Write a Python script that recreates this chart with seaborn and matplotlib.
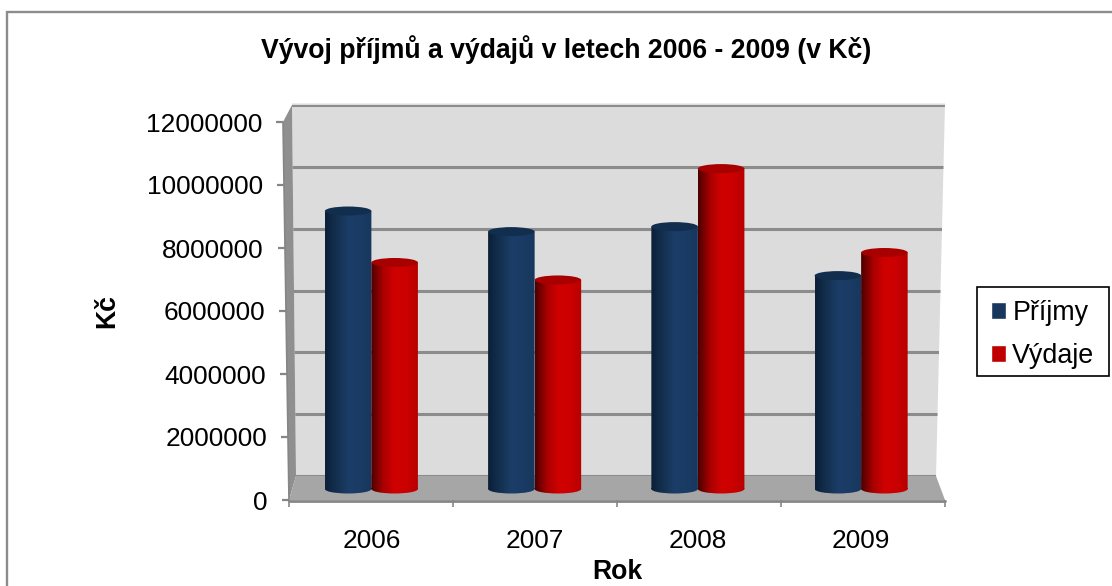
import numpy as np
import pandas as pd
import matplotlib
matplotlib.use("Agg")
import matplotlib.pyplot as plt
import seaborn as sns
from matplotlib.colors import LinearSegmentedColormap
from matplotlib.patches import Ellipse, Polygon, Rectangle
from matplotlib.path import Path
from matplotlib.transforms import Affine2D, ScaledTranslation

# data
years = ["2006", "2007", "2008", "2009"]
prijmy = [8910000, 8250000, 8410000, 6840000]
vydaje = [7260000, 6700000, 10270000, 7580000]
y_ticks = [0, 2000000, 4000000, 6000000, 8000000, 10000000, 12000000]

W, H = 1112, 586

sns.set_style("white")
plt.rcParams["font.family"] = ["Liberation Sans", "DejaVu Sans"]
plt.rcParams["text.color"] = "black"
plt.rcParams["xtick.labelcolor"] = "black"
plt.rcParams["ytick.labelcolor"] = "black"

df = pd.DataFrame({
    "Rok": years * 2,
    "Kc": prijmy + vydaje,
    "serie": ["Příjmy"] * 4 + ["Výdaje"] * 4,
})

fig = plt.figure(figsize=(W / 100, H / 100), dpi=100, facecolor="white")


def px_axes(x0, y0, x1, y1):
    # axes from pixel box, y measured from the top of the image
    a = fig.add_axes([x0 / W, 1 - y1 / H, (x1 - x0) / W, (y1 - y0) / H])
    a.patch.set_alpha(0)
    return a


# pixel canvas for the fake 3D box
bg = px_axes(0, 0, W, H)
bg.set_xlim(0, W)
bg.set_ylim(H, 0)
bg.set_axis_off()
# frame only shows on the top and left, the rest is cut off
bg.add_patch(Rectangle((7, 12), 1300, 800, fc="white", ec="#8c8c8c", lw=1.7))
wall = Polygon([(292, 103.5), (945, 103.5), (936, 477), (296, 477)], fc="#dcdcdc", ec="none")
bg.add_patch(wall)
bg.add_patch(Polygon([(283, 122), (292, 105), (296, 476), (289, 500)], fc="#8f8f8f", ec="none"))
bg.add_patch(Polygon([(296, 476), (936, 476), (945, 500), (289, 500)], fc="#a6a6a6", ec="none"))
bg.plot([289, 945], [501, 501], color="#868686", lw=2)
bg.plot([283, 289], [122, 501], color="#868686", lw=1.2)
# legend box
bg.add_patch(Rectangle((977, 287), 132, 89, fc="white", ec="black", lw=1.2))

# back wall grid
back = px_axes(280, 105, 960, 476)
back.set_ylim(0, 12000000)
back.set_yticks(y_ticks)
back.set_xticks([])
back.tick_params(left=False, labelleft=False)
back.grid(axis="y", color="#8c8c8c", lw=2.2)
for s in back.spines.values():
    s.set_visible(False)
back.set_axisbelow(True)
for line in back.get_ygridlines():
    line.set_clip_path(wall)

# front axis with the ticks and labels
front = px_axes(289, 122, 945, 500)
front.set_ylim(0, 12000000)
front.set_xlim(-0.5, 3.5)
front.set_yticks(y_ticks)
front.set_yticklabels([str(v) for v in y_ticks])
for s in front.spines.values():
    s.set_visible(False)
front.tick_params(axis="y", length=5.2, width=1.6, color="#868686", labelsize=18.9, pad=10, left=True)
front.tick_params(axis="x", length=5, width=1.2, color="#868686", bottom=True)
front.set_xticks([-0.5, 0.5, 1.5, 2.5, 3.5])
front.set_xticklabels(["", "", "", "", ""])
for v, t in zip(y_ticks, front.yaxis.get_major_ticks()):
    # axis leans to the left going up
    shift = ScaledTranslation(-6 * v / 12000000 / 100, 0, Affine2D().scale(100))
    t.tick1line.set_transform(t.tick1line.get_transform() + shift)
    t.label1.set_transform(t.label1.get_transform() + shift)

# the cylinders
ax = px_axes(289.75, 114.6, 942.75, 489)
sns.barplot(data=df, x="Rok", y="Kc", hue="serie", palette=["#17375e", "#c00000"],
            width=0.57, gap=0, saturation=1, ax=ax)
ax.set_ylim(0, 12000000)
ax.set_xlim(-0.5, 3.5)

grads = [
    (["#0b2039", "#14304f", "#1b3d68", "#1a3b64", "#17375e"], "#112e4e"),
    (["#4c0000", "#a80000", "#d00000", "#cc0000", "#b80000"], "#a80000"),
]
eh = 9 / 374.4 * 12000000
for cont, (cols, top) in zip(ax.containers, grads):
    cmap = LinearSegmentedColormap.from_list("cyl", cols)
    for bar in cont:
        x0, w, h = bar.get_x(), bar.get_width(), bar.get_height()
        xc = x0 + w / 2
        body = Path.unit_rectangle().transformed(Affine2D().scale(w, h).translate(x0, 0))
        base = Path.unit_circle().transformed(Affine2D().scale(w / 2, eh / 2).translate(xc, 0))
        clip = Path.make_compound_path(body, base)
        im = ax.imshow(np.linspace(0, 1, 64).reshape(1, -1), extent=(x0, x0 + w, -eh, h),
                       cmap=cmap, aspect="auto", zorder=3)
        # image has to paint below y=0 for the round base
        im.set_clip_box(fig.bbox)
        im.set_clip_path(clip, ax.transData)
        ax.add_patch(Ellipse((xc, h), w, eh, fc=top, ec="none", zorder=4, clip_on=False))
        bar.set_visible(False)
ax.set_ylim(0, 12000000)
ax.set_xlim(-0.5, 3.5)
ax.set_axis_off()

handles, labels = ax.get_legend_handles_labels()
for hd in handles:
    hd.set_visible(True)
leg = ax.legend(handles, labels, loc="upper left", bbox_to_anchor=(991 / W, 1 - 300 / H),
                bbox_transform=fig.transFigure, borderaxespad=0, frameon=False, fontsize=19.4,
                handlelength=0.55, handleheight=0.55, handletextpad=0.24, labelspacing=0.63,
                borderpad=0)

# texts
for lab, x in zip(years, [371.5, 535, 698, 861]):
    fig.text(x / W, 1 - 541 / H, lab, ha="center", va="center", fontsize=18.9)
fig.text(566 / W, 1 - 50 / H, "Vývoj příjmů a výdajů v letech 2006 - 2009 (v Kč)",
         ha="center", va="center", fontsize=19.2, fontweight="bold")
fig.text(617 / W, 1 - 572 / H, "Rok", ha="center", va="center", fontsize=19.2, fontweight="bold")
fig.text(107 / W, 1 - 311 / H, "Kč", ha="center", va="center", rotation=90, fontsize=19.2,
         fontweight="bold")

fig.savefig("out.png", dpi=100)
